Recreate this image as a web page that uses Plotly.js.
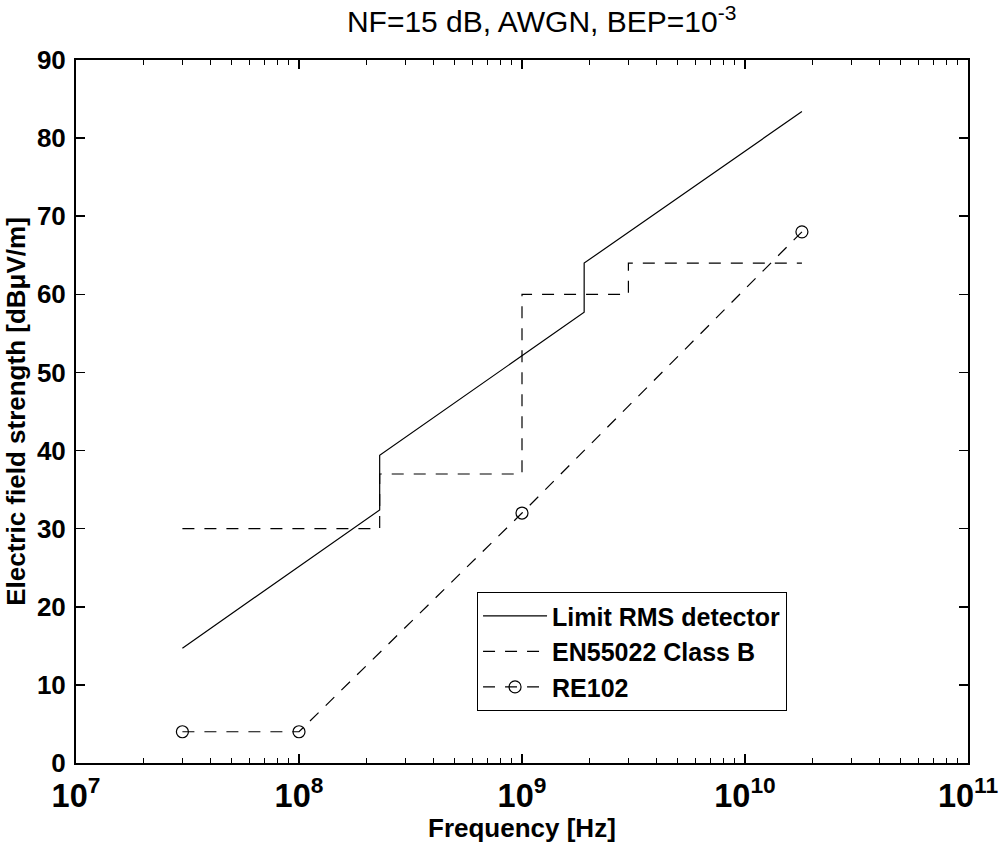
<!DOCTYPE html>
<html><head><meta charset="utf-8">
<script src="https://cdn.plot.ly/plotly-3.0.1.min.js"></script>
<style>html,body{margin:0;padding:0;background:#fff}#chart{width:999px;height:845px}</style>
</head><body><div id="chart"></div>
<script>
// Limit RMS detector
const limitFreq = [3e7, 2.3e8, 2.3e8, 1.9e9, 1.9e9, 1.8e10];
const limitLevel = [14.7, 32.4, 39.4, 57.7, 64.0, 83.4];
// EN55022 Class B
const enFreq = [3e7, 2.3e8, 2.3e8, 1e9, 1e9, 3e9, 3e9, 1.8e10];
const enLevel = [30, 30, 37, 37, 60, 60, 64, 64];
// RE102
const reFreq = [3e7, 1e8, 1e9, 1.8e10];
const reLevel = [4, 4, 32, 68];
// labels
const seriesNames = ['Limit RMS detector', 'EN55022 Class B', 'RE102'];
const chartTitle = 'NF=15 dB, AWGN, BEP=10<sup>-3</sup>';
const xTitle = 'Frequency [Hz]';
const yTitle = 'Electric field strength [dBμV/m]';
const yTickVals = [0, 10, 20, 30, 40, 50, 60, 70, 80, 90];

const FONT = 'Liberation Sans, Arial, sans-serif';

const traces = [
  {x: limitFreq, y: limitLevel, name: seriesNames[0], mode: 'lines', type: 'scatter',
   line: {color: '#000', width: 1.2}},
  {x: enFreq, y: enLevel, name: seriesNames[1], mode: 'lines', type: 'scatter',
   line: {color: '#000', width: 1.2, dash: '12px,10px'}},
  {x: reFreq, y: reLevel, name: seriesNames[2], mode: 'lines+markers', type: 'scatter',
   line: {color: '#000', width: 1.2, dash: '12px,10px'},
   marker: {symbol: 'circle-open', size: 12, color: '#000', line: {width: 1.2, color: '#000'}}}
];

const axisCommon = {
  showline: true, linecolor: '#000', linewidth: 2, mirror: 'ticks',
  ticks: 'inside', ticklen: 9, tickwidth: 1.5, tickcolor: '#000',
  showgrid: false, zeroline: false,
  tickfont: {family: FONT, size: 26, color: '#000', weight: 'bold'}
};

const layout = {
  width: 999, height: 845,
  paper_bgcolor: '#fff', plot_bgcolor: '#fff',
  margin: {l: 76, r: 31, t: 60, b: 82},
  showlegend: true,
  title: {text: chartTitle, x: 0.522, xref: 'paper', xanchor: 'center',
          y: 0.974, yref: 'container', yanchor: 'middle',
          font: {family: FONT, size: 30, color: '#000'}},
  xaxis: Object.assign({}, axisCommon, {
    type: 'log', range: [7, 11], dtick: 1, exponentformat: 'power',
    minor: {ticks: 'inside', ticklen: 5, tickwidth: 1.2, tickcolor: '#000', dtick: 'D1', showgrid: false},
    ticklabelstandoff: 4
  }),
  yaxis: Object.assign({}, axisCommon, {
    range: [0, 90], tickvals: yTickVals, ticklabelstandoff: 3,
    title: {text: yTitle, standoff: 4, font: {family: FONT, size: 26, color: '#000', weight: 'bold'}}
  }),
  annotations: [{
    text: xTitle, xref: 'paper', yref: 'paper', x: 0.5, y: -0.093,
    xanchor: 'center', yanchor: 'middle', showarrow: false,
    font: {family: FONT, size: 26, color: '#000', weight: 'bold'}
  }],
  legend: {
    x: 0.4496, y: 0.243, xanchor: 'left', yanchor: 'top',
    bgcolor: '#fff', bordercolor: '#000', borderwidth: 1,
    font: {family: FONT, size: 25, color: '#000', weight: 'bold'},
    itemwidth: 64, tracegroupgap: 0
  }
};

Plotly.newPlot('chart', traces, layout, {displayModeBar: false, staticPlot: true});
</script>
</body></html>
